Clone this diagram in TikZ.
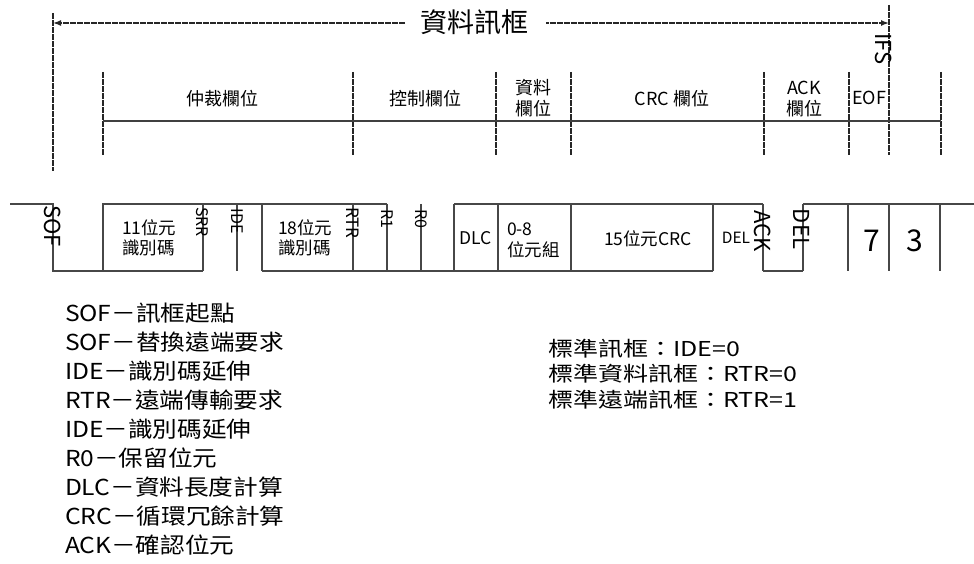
\documentclass[tikz,border=0pt]{standalone}
\usepackage{fontspec}
\usepackage{graphicx}
\setmainfont{Noto Sans CJK TC}
\usetikzlibrary{arrows.meta}
\newcommand{\fsz}[2]{\fontsize{#1}{#2}\selectfont}
\newcommand{\legA}[1]{\scalebox{1.12}[1]{#1}}
\newcommand{\legB}[1]{\scalebox{1.22}[1]{#1}}
\begin{document}
\begin{tikzpicture}[x=1pt,y=-1pt,
  dline/.style={line width=2.2pt, black!85, dash pattern=on 3pt off 0.5pt},
  aline/.style={line width=1.5pt, black!85, dash pattern=on 3pt off 0.5pt},
  sig/.style={line width=1.3pt, black!72},
  hline/.style={line width=1.2pt, black!75},
  lbl/.style={inner sep=0pt, outer sep=0pt, text=black},
  fld/.style={lbl, font=\fsz{18}{21}, align=center},
  box/.style={lbl, font=\fsz{17.5}{20}, align=left, anchor=west},
  rlbl/.style={lbl, rotate=-90},
  legl/.style={lbl, anchor=west, font=\fsz{22}{25}},
  legr/.style={lbl, anchor=west, font=\fsz{20.5}{24}},
]
\useasboundingbox (0,0) rectangle (974,564);

% ---------- title and frame arrow ----------
\node[lbl, font=\fsz{27}{30}] (title) at (474,22) {資料訊框};
\coordinate (tl) at (405,23);
\coordinate (tr) at (546,23);
\coordinate (L) at (53,23);
\coordinate (R) at (889,23);
\draw[aline, -{Latex[length=8pt,width=6pt]}] (tl) -- (L);
\draw[aline, -{Latex[length=8pt,width=6pt]}] (tr) -- (R);

% ---------- field separators ----------
\coordinate (f0t) at (53,13);  \coordinate (f0b) at (53,171);
\draw[dline] (f0t) -- (f0b);
\foreach \x in {103,353,496,571,764,849,941}{
  \draw[dline] (\x,72) -- (\x,155);
}
\coordinate (ifst) at (889,5); \coordinate (ifsb) at (889,155);
\draw[dline] (ifst) -- (ifsb);
\coordinate (hl) at (103,121); \coordinate (hr) at (941,121);
\draw[hline] (hl) -- (hr);

\node[fld] (arb) at (222,99) {仲裁欄位};
\node[fld] (ctl) at (425,99) {控制欄位};
\node[fld] (dat) at (533,98) {資料\\欄位};
\node[fld] (crcf) at (672,99) {CRC 欄位};
\node[fld] (ackf) at (804,99) {ACK\\欄位};
\node[fld] (eof) at (869,98) {EOF};
\node[rlbl, font=\fsz{22}{24}] (ifs) at (884,49) {IFS};

% ---------- signal ----------
\draw[sig] (10,204) -- (53,204) -- (53,271) -- (203,271);
\draw[sig] (103,271) -- (103,204) -- (387,204);
\draw[sig] (262,271) -- (713,271);
\draw[sig] (454,204) -- (763,204);
\draw[sig] (763,271) -- (803,271);
\draw[sig] (803,204) -- (974,204);
\foreach \x in {203,237,262,353,387,421,454,498,571,713,763,803,848,889,940}{
  \draw[sig] (\x,204) -- (\x,271);
}

\node[rlbl, font=\fsz{22}{24}] (sof) at (53,226) {SOF};
\node[rlbl, font=\fsz{16}{18}] (srr) at (202,222) {SRR};
\node[rlbl, font=\fsz{16}{18}] (ide) at (237,221) {IDE};
\node[rlbl, font=\fsz{17}{19}] (rtr) at (353,223) {RTR};
\node[rlbl, font=\fsz{16}{18}] (r1) at (387,219) {R1};
\node[rlbl, font=\fsz{16}{18}] (r0) at (421,219) {R0};
\node[rlbl, font=\fsz{22}{24}] (ack) at (763,231) {ACK};
\node[rlbl, font=\fsz{22}{24}] (del2) at (802,229) {DEL};

\node[box] (id11) at (122,238) {11位元\\識別碼};
\node[box] (id18) at (278,238) {18位元\\識別碼};
\node[lbl, font=\fsz{17.5}{20}] (dlc) at (476,238) {DLC};
\node[box, font=\fsz{17.5}{21}] (dbytes) at (507,240) {0-8\\位元組};
\node[lbl, font=\fsz{17.5}{20}] (crc15) at (648,239) {15位元CRC};
\node[lbl, font=\fsz{15.5}{18}] (del1) at (736,238) {DEL};
\node[lbl, font=\fsz{30}{32}] (seven) at (872,241) {7};
\node[lbl, font=\fsz{30}{32}] (three) at (915,241) {3};

% ---------- legends ----------
\node[legl] (l1) at (65,313) {\legA{SOF－訊框起點}};
\node[legl] (l2) at (65,342) {\legA{SOF－替換遠端要求}};
\node[legl] (l3) at (65,371) {\legA{IDE－識別碼延伸}};
\node[legl] (l4) at (65,400) {\legA{RTR－遠端傳輸要求}};
\node[legl] (l5) at (65,429) {\legA{IDE－識別碼延伸}};
\node[legl] (l6) at (65,458) {\legA{R0－保留位元}};
\node[legl] (l7) at (65,487) {\legA{DLC－資料長度計算}};
\node[legl] (l8) at (65,516) {\legA{CRC－循環冗餘計算}};
\node[legl] (l9) at (65,545) {\legA{ACK－確認位元}};

\node[legr] (r1l) at (548,349) {\legB{標準訊框：IDE=0}};
\node[legr] (r2l) at (548,374) {\legB{標準資料訊框：RTR=0}};
\node[legr] (r3l) at (548,400) {\legB{標準遠端訊框：RTR=1}};
\end{tikzpicture}
\end{document}
